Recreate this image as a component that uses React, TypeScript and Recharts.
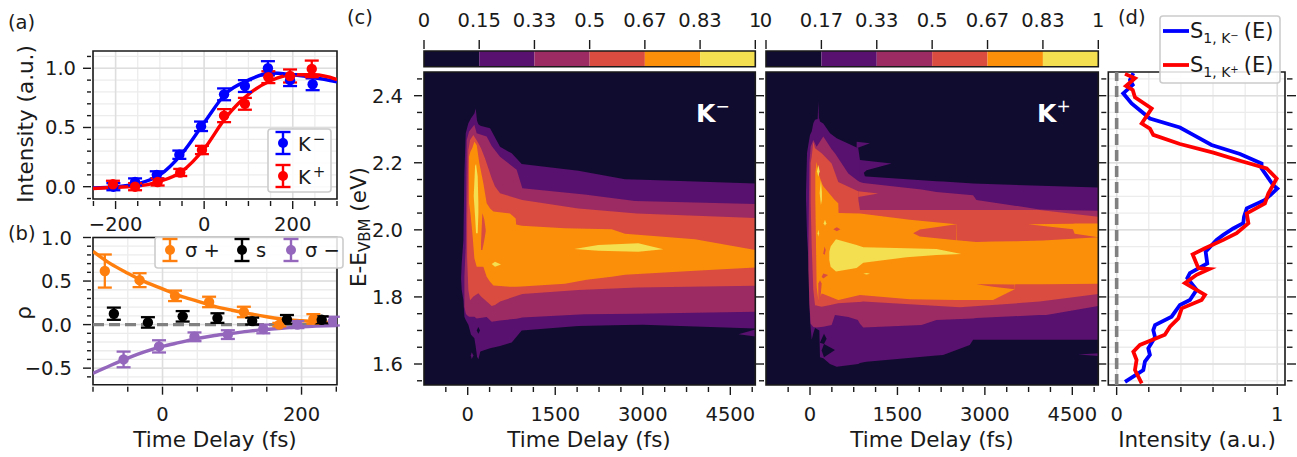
import React from "react";
import {
  Area,
  CartesianGrid,
  ComposedChart,
  ErrorBar,
  Legend,
  Line,
  ReferenceArea,
  ReferenceLine,
  Scatter,
  XAxis,
  YAxis,
} from "recharts";

const W = 1297;
const H = 457;
const FONT = "'DejaVu Sans', sans-serif";
const INK = "#1a1a1a";

const BLUE = "#0000ff";
const RED = "#ff0000";
const ORANGE = "#ff7f0e";
const VIOLET = "#9467bd";
const LEVEL_COLORS = ["#100c2f", "#58116e", "#9c2a63", "#d94c3f", "#fb8f0a", "#f4df50"];

// (a) rise curves
const riseBlue = [[-205, 0.0, 0.03], [-156, 0.04, 0.03], [-107, 0.1, 0.03], [-56, 0.27, 0.035], [-7, 0.51, 0.04], [45, 0.78, 0.05], [92, 0.85, 0.05], [144, 1.0, 0.06], [194, 0.9, 0.05], [245, 0.865, 0.05]];
const riseRed = [[-206, 0.02, 0.03], [-156, 0.0, 0.03], [-105, 0.04, 0.03], [-54, 0.12, 0.03], [-5, 0.31, 0.035], [45, 0.6, 0.055], [92, 0.7, 0.05], [145, 0.925, 0.05], [194, 0.935, 0.055], [243, 0.995, 0.07]];
const fitBlue = [[-251, -0.01], [-200, 0.0], [-150, 0.025], [-100, 0.1], [-50, 0.28], [0, 0.54], [50, 0.79], [100, 0.9], [150, 0.96], [200, 0.945], [250, 0.92], [300, 0.885]];
const fitRed = [[-251, -0.015], [-200, -0.005], [-150, 0.005], [-100, 0.045], [-50, 0.13], [0, 0.32], [50, 0.59], [100, 0.78], [150, 0.895], [200, 0.945], [250, 0.945], [300, 0.905]];

// (b) polarisation
const rhoOrange = [[-83, 0.615, 0.19], [-33, 0.51, 0.08], [18, 0.33, 0.06], [67, 0.26, 0.06], [117, 0.145, 0.06], [168, 0.0, 0.02], [217, 0.065, 0.055]];
const rhoBlack = [[-70, 0.125, 0.07], [-21, 0.025, 0.06], [29, 0.095, 0.06], [79, 0.075, 0.055], [129, 0.04, 0.04], [179, 0.06, 0.05], [229, 0.055, 0.04]];
const rhoViolet = [[-56, -0.4, 0.09], [-5, -0.25, 0.07], [46, -0.14, 0.05], [94, -0.115, 0.05], [145, -0.05, 0.05], [194, 0.0, 0.04], [245, 0.04, 0.05]];
const fitOrange = [[-100, 0.84], [-75, 0.7], [-50, 0.59], [-25, 0.49], [0, 0.41], [25, 0.33], [50, 0.27], [75, 0.21], [100, 0.165], [125, 0.125], [150, 0.09], [175, 0.06], [200, 0.045], [250, 0.02]];
const fitViolet = [[-100, -0.56], [-75, -0.47], [-50, -0.385], [-25, -0.31], [0, -0.25], [25, -0.205], [50, -0.16], [75, -0.125], [100, -0.1], [125, -0.075], [150, -0.055], [175, -0.04], [200, -0.025], [250, -0.01]];

// (c) contour bands, rows are [time, low energy, high energy]
type Band = number[][];
const kmPurple: Band = [[-114, 1.856, 1.856], [-103, 1.821, 1.9], [-74, 1.791, 1.97], [-57, 1.741, 2.169], [-34, 1.731, 2.288], [11, 1.717, 2.318], [57, 1.687, 2.333], [114, 1.677, 2.347], [137, 1.652, 2.362], [160, 1.622, 2.325], [183, 1.614, 2.315], [217, 1.637, 2.31], [383, 1.647, 2.303], [554, 1.654, 2.248], [754, 1.664, 2.228], [925, 1.7, 2.196], [1897, 1.713, 2.176], [2695, 1.716, 2.151], [3000, 1.717, 2.149], [4928, 1.706, 2.138]];
const kmPurpleWedge: Band = [[4640, 1.689, 1.689], [4928, 1.682, 1.703]];
const kmPurpleSpeck: Band = [[52, 1.625, 1.625], [69, 1.615, 1.635], [97, 1.625, 1.625]];
const kmDarkDot: Band = [[154, 1.7, 1.7], [183, 1.69, 1.71], [211, 1.7, 1.7]];
const kmMagenta: Band = [[-57, 1.771, 1.861], [-34, 1.751, 1.95], [-17, 1.746, 2.268], [23, 1.741, 2.293], [114, 1.741, 2.313], [154, 1.736, 2.288], [325, 1.74, 2.278], [411, 1.726, 2.25], [554, 1.73, 2.218], [839, 1.735, 2.179], [936, 1.739, 2.124], [2000, 1.748, 2.105], [2866, 1.75, 2.086], [4928, 1.756, 2.077]];
const kmRed: Band = [[-11, 1.92, 2.02], [11, 1.821, 2.238], [40, 1.79, 2.268], [97, 1.801, 2.283], [183, 1.811, 2.258], [228, 1.801, 2.243], [297, 1.791, 2.213], [411, 1.773, 2.154], [468, 1.776, 2.129], [554, 1.786, 2.109], [936, 1.809, 2.089], [1897, 1.821, 2.064], [2900, 1.828, 2.049], [4928, 1.833, 2.035]];
const kmOrange: Band = [[23, 2.079, 2.218], [46, 2.05, 2.233], [80, 1.99, 2.245], [114, 1.915, 2.263], [154, 1.89, 2.253], [200, 1.89, 2.198], [268, 1.89, 2.139], [325, 1.86, 2.079], [383, 1.845, 2.064], [440, 1.834, 2.055], [725, 1.83, 2.049], [822, 1.83, 2.034], [830, 1.83, 2.016], [925, 1.831, 2.012], [1667, 1.839, 2.005], [2038, 1.851, 2.003], [2467, 1.86, 2.002], [2695, 1.866, 1.988], [3894, 1.878, 1.972], [4928, 1.888, 1.94]];
const kmRedNotch: Band = [[228, 1.94, 1.96], [251, 1.94, 2.05], [285, 1.97, 2.03], [308, 1.995, 2.0]];
const kmYellowStrip: Band = [[103, 2.1, 2.1], [126, 2.04, 2.19], [143, 1.99, 2.196], [171, 1.99, 2.16], [183, 2.05, 2.08]];
const kmYellowSpot: Band = [[411, 1.898, 1.898], [468, 1.89, 1.905], [571, 1.897, 1.897]];
const kmYellowLobe: Band = [[1827, 1.943, 1.943], [2238, 1.938, 1.955], [2923, 1.935, 1.96], [3352, 1.942, 1.942]];

const kpPurple: Band = [[-69, 2.09, 2.115], [-51, 1.98, 2.23], [-23, 1.9, 2.26], [0, 1.73, 2.283], [29, 1.672, 2.293], [57, 1.692, 2.318], [86, 1.707, 2.328], [160, 1.7, 2.332], [171, 1.62, 2.323], [228, 1.617, 2.317], [343, 1.6, 2.288], [457, 1.592, 2.273], [828, 1.6, 2.243], [857, 1.603, 2.208], [942, 1.606, 2.16], [971, 1.607, 2.159], [2170, 1.625, 2.145], [2284, 1.627, 2.144], [2741, 1.657, 2.139], [2798, 1.672, 2.138], [4946, 1.672, 2.126]];
const kpPurpleTip: Band = [[131, 2.33, 2.33], [143, 2.33, 2.382], [154, 2.33, 2.33]];
const kpPurpleSpikeA: Band = [[800, 2.243, 2.263], [1028, 2.258, 2.258]];
const kpPurpleSpikeB: Band = [[857, 2.16, 2.208], [971, 2.178, 2.206], [1399, 2.198, 2.198]];
const kpPurpleWedge: Band = [[4600, 1.628, 1.628], [4946, 1.624, 1.632]];
const kpDarkA: Band = [[170, 1.663, 1.663], [240, 1.66, 1.69], [285, 1.675, 1.675]];
const kpDarkB: Band = [[200, 1.64, 1.64], [240, 1.62, 1.66], [428, 1.642, 1.642]];
const kpMagenta: Band = [[-28, 1.88, 1.95], [-11, 1.78, 2.2], [11, 1.72, 2.248], [57, 1.71, 2.268], [114, 1.709, 2.248], [228, 1.711, 2.278], [371, 1.716, 2.24], [428, 1.746, 2.228], [657, 1.74, 2.168], [820, 1.731, 2.146], [857, 1.72, 2.143], [914, 1.709, 2.14], [1913, 1.716, 2.12], [2170, 1.731, 2.113], [2798, 1.736, 2.103], [2855, 1.737, 2.089], [3940, 1.746, 2.061], [4054, 1.746, 2.06], [4946, 1.773, 2.057]];
const kpRed: Band = [[11, 2.08, 2.2], [29, 1.95, 2.218], [57, 1.82, 2.263], [86, 1.775, 2.243], [200, 1.771, 2.228], [371, 1.777, 2.198], [485, 1.781, 2.143], [826, 1.785, 2.115], [830, 1.785, 2.089], [857, 1.785, 2.059], [914, 1.786, 2.059], [2570, 1.769, 2.059], [3940, 1.786, 2.059], [4946, 1.809, 2.039]];
const kpRedSpur: Band = [[828, 2.098, 2.115], [1170, 2.108, 2.108]];
const kpOrange: Band = [[91, 2.089, 2.17], [114, 1.83, 2.203], [143, 1.79, 2.17], [200, 1.81, 2.14], [228, 1.809, 2.13], [420, 1.795, 2.09], [485, 1.791, 2.079], [490, 1.791, 2.05], [857, 1.806, 2.049], [1713, 1.793, 2.03], [2512, 1.791, 2.017], [2520, 1.791, 1.969], [2855, 1.791, 1.964], [3140, 1.791, 1.965], [3512, 1.823, 1.966], [3520, 1.838, 1.966], [3997, 1.838, 1.968], [4946, 1.839, 1.978]];
const kpOrangeWedge: Band = [[3740, 2.017, 2.017], [4511, 2.002, 2.018], [4540, 1.988, 2.019], [4946, 1.978, 2.019]];
const kpRedIsland: Band = [[1770, 1.99, 1.99], [1884, 1.98, 2.001], [2512, 1.969, 2.017]];
const kpRedSliver: Band = [[2855, 1.838, 1.838], [3140, 1.83, 1.838], [3512, 1.823, 1.837]];
const kpRedSpotA: Band = [[400, 2.002, 2.002], [460, 1.996, 2.008], [520, 2.002, 2.002]];
const kpRedSpotB: Band = [[228, 1.93, 1.93], [250, 1.925, 1.95], [270, 1.94, 1.94]];
const kpRedSpotC: Band = [[200, 1.86, 1.86], [228, 1.855, 1.87], [310, 1.865, 1.865]];
const kpRedSpotD: Band = [[143, 1.78, 1.84], [171, 1.78, 1.85], [200, 1.84, 1.84]];
const kpYellowLobe: Band = [[331, 1.91, 1.935], [354, 1.89, 1.95], [445, 1.876, 1.972], [799, 1.886, 1.955], [914, 1.902, 1.948], [1656, 1.918, 1.945], [2170, 1.925, 1.943], [2598, 1.928, 1.928]];
const kpYellowSpotA: Band = [[914, 1.869, 1.869], [970, 1.867, 1.871], [1028, 1.869, 1.869]];
const kpYellowSpotB: Band = [[120, 2.175, 2.175], [143, 2.158, 2.193], [166, 2.175, 2.175]];
const kpYellowSpotC: Band = [[165, 2.11, 2.11], [188, 2.074, 2.148], [205, 2.09, 2.11]];
const kpYellowSpotD: Band = [[235, 2.02, 2.02], [257, 2.012, 2.03], [280, 2.02, 2.02]];
const kpYellowSpotE: Band = [[130, 1.99, 1.99], [143, 1.98, 2.0], [156, 1.99, 1.99]];

const kMinusLayers: [number, Band][] = [
  [1, kmPurple], [1, kmPurpleWedge], [1, kmPurpleSpeck], [0, kmDarkDot],
  [2, kmMagenta], [3, kmRed], [4, kmOrange], [3, kmRedNotch],
  [5, kmYellowStrip], [5, kmYellowSpot], [5, kmYellowLobe],
];
const kPlusLayers: [number, Band][] = [
  [1, kpPurple], [1, kpPurpleTip], [1, kpPurpleSpikeA], [1, kpPurpleSpikeB], [1, kpPurpleWedge],
  [0, kpDarkA], [0, kpDarkB],
  [2, kpMagenta], [3, kpRed], [3, kpRedSpur], [4, kpOrange], [4, kpOrangeWedge],
  [3, kpRedIsland], [3, kpRedSliver], [3, kpRedSpotA], [3, kpRedSpotB], [3, kpRedSpotC], [3, kpRedSpotD],
  [5, kpYellowLobe], [5, kpYellowSpotA], [5, kpYellowSpotB], [5, kpYellowSpotC], [5, kpYellowSpotD], [5, kpYellowSpotE],
];

const barLabelsLeft = ["0", "0.15", "0.33", "0.5", "0.67", "0.83", "1"];
const barLabelsRight = ["0", "0.17", "0.33", "0.5", "0.67", "0.83", "1"];

// (d) spectra, rows are [intensity, energy]
const specMinus = [[0.104, 2.467], [0.083, 2.447], [0.1, 2.432], [0.041, 2.407], [0.093, 2.377], [0.156, 2.352], [0.207, 2.332], [0.394, 2.305], [0.477, 2.283], [0.591, 2.253], [0.768, 2.226], [0.902, 2.198], [0.902, 2.183], [0.975, 2.133], [1.0, 2.123], [0.923, 2.089], [0.81, 2.064], [0.793, 2.039], [0.788, 2.02], [0.726, 2.004], [0.664, 1.985], [0.622, 1.97], [0.554, 1.935], [0.564, 1.9], [0.456, 1.871], [0.44, 1.856], [0.498, 1.821], [0.456, 1.791], [0.394, 1.776], [0.342, 1.741], [0.239, 1.716], [0.228, 1.701], [0.239, 1.68], [0.197, 1.647], [0.207, 1.627], [0.176, 1.607], [0.166, 1.582], [0.052, 1.547]];
const specPlus = [[0.052, 2.465], [0.114, 2.452], [0.058, 2.429], [0.1, 2.417], [0.114, 2.395], [0.218, 2.362], [0.156, 2.317], [0.207, 2.302], [0.228, 2.283], [0.394, 2.256], [0.602, 2.23], [0.768, 2.206], [0.934, 2.183], [0.996, 2.153], [0.944, 2.108], [0.923, 2.079], [0.81, 2.049], [0.82, 2.02], [0.747, 1.99], [0.664, 1.97], [0.55, 1.945], [0.473, 1.927], [0.508, 1.886], [0.577, 1.883], [0.498, 1.866], [0.425, 1.841], [0.55, 1.806], [0.529, 1.791], [0.405, 1.766], [0.384, 1.736], [0.332, 1.711], [0.3, 1.687], [0.145, 1.657], [0.104, 1.637], [0.124, 1.612], [0.114, 1.582], [0.156, 1.542]];

// tick lists
const delayTicksA = [-250, -200, -150, -100, -50, 0, 50, 100, 150, 200, 250, 300];
const delayTicksB = [-100, -50, 0, 50, 100, 150, 200, 250];
const delayMajor = [-200, 0, 200];
const intensityTicks = [-0.1, 0, 0.1, 0.2, 0.3, 0.4, 0.5, 0.6, 0.7, 0.8, 0.9, 1.0, 1.1];
const intensityMajor = [0, 0.5, 1.0];
const rhoTicks = [-0.6, -0.5, -0.4, -0.3, -0.2, -0.1, 0, 0.1, 0.2, 0.3, 0.4, 0.5, 0.6, 0.7, 0.8, 0.9, 1.0];
const rhoMajor = [-0.5, 0, 0.5, 1.0];
const longDelayTicks = [-375, 0, 375, 750, 1125, 1500, 1875, 2250, 2625, 3000, 3375, 3750, 4125, 4500, 4875];
const longDelayMajor = [0, 1500, 3000, 4500];
const energyTicks = [1.55, 1.6, 1.65, 1.7, 1.75, 1.8, 1.85, 1.9, 1.95, 2.0, 2.05, 2.1, 2.15, 2.2, 2.25, 2.3, 2.35, 2.4, 2.45];
const energyMajor = [1.6, 1.8, 2.0, 2.2, 2.4];
const specTicks = [0, 0.2, 0.4, 0.6, 0.8, 1];
const specMajor = [0, 1];

type Rect = { left: number; right: number; top: number; bottom: number };
const panelA: Rect = { left: 93, right: 337, top: 51, bottom: 199 };
const panelB: Rect = { left: 93, right: 337, top: 237.5, bottom: 384.7 };
const panelL: Rect = { left: 424, right: 755.3, top: 72, bottom: 385 };
const panelR: Rect = { left: 766, right: 1098.3, top: 72, bottom: 385 };
const panelD: Rect = { left: 1108.3, right: 1285, top: 72, bottom: 385 };
const barL: Rect = { left: 424, right: 755.3, top: 51, bottom: 66.7 };
const barR: Rect = { left: 766, right: 1098.3, top: 51, bottom: 66.7 };

const ENERGY_DOMAIN = [1.5374, 2.4706];

// axes are 1px thick in the layout, the margins give that pixel back
const margins = (r: Rect, sides = "lb") => ({
  left: r.left - (sides.includes("l") ? 1 : 0),
  right: W - r.right - (sides.includes("r") ? 1 : 0),
  top: r.top - (sides.includes("t") ? 1 : 0),
  bottom: H - r.bottom - (sides.includes("b") ? 1 : 0),
});
const xyRows = (rows: number[][]) => rows.map(([x, y, err]) => ({ x, y, err }));
const bandRows = (rows: Band) => rows.map(([t, lo, hi]) => ({ t, band: [lo, hi] }));
const specRows = (rows: number[][]) => rows.map(([x, e]) => ({ x, e }));

const sheet: React.CSSProperties = { position: "absolute", left: 0, top: 0 };
const TICK_FONT = 19.5;
const LABEL_FONT = 21.5;

// one tick drawn by hand so that minor and major ticks can differ
function makeTick(side: string, major: number[], format: (v: number) => string, gap: number, long = 8, short = 5) {
  return (props: any) => {
    const { x, y, payload } = props;
    const v = payload.value;
    const isMajor = major.includes(v);
    const len = isMajor ? long : short;
    const text = isMajor ? format(v) : "";
    if (side === "bottom") {
      return (
        <g>
          <line x1={x} x2={x} y1={y} y2={y + len} stroke={INK} strokeWidth={1.4} />
          {text && <text x={x} y={y + gap} textAnchor="middle" fontSize={TICK_FONT} fontFamily={FONT} fill={INK}>{text}</text>}
        </g>
      );
    }
    if (side === "top") {
      return (
        <g>
          <line x1={x} x2={x} y1={y} y2={y - len} stroke={INK} strokeWidth={1.4} />
          {text && <text x={x} y={y - gap} textAnchor="middle" fontSize={TICK_FONT} fontFamily={FONT} fill={INK}>{text}</text>}
        </g>
      );
    }
    if (side === "right") {
      return <line x1={x} x2={x + len} y1={y} y2={y} stroke={INK} strokeWidth={1.4} />;
    }
    return (
      <g>
        <line x1={x} x2={x - len} y1={y} y2={y} stroke={INK} strokeWidth={1.4} />
        {text && <text x={x - gap} y={y + 7} textAnchor="end" fontSize={TICK_FONT} fontFamily={FONT} fill={INK}>{text}</text>}
      </g>
    );
  };
}

const minus = (s: string) => s.replace("-", "\u2212");
const fmtInt = (v: number) => minus(String(v));
const fmtOne = (v: number) => minus(v.toFixed(1));
const noLabel = () => "";

function Grid({ xs, ys, xMajor = [], yMajor = [] }: { xs: number[]; ys: number[]; xMajor?: number[]; yMajor?: number[] }) {
  return (
    <>
      <CartesianGrid stroke="#ececec" strokeWidth={1.3} verticalValues={xs} horizontalValues={ys} />
      <CartesianGrid stroke="#dedede" strokeWidth={1.5} verticalValues={xMajor} horizontalValues={yMajor} />
    </>
  );
}

const frame = (x: number[], y: number[]) => (
  <ReferenceArea x1={x[0]} x2={x[1]} y1={y[0]} y2={y[1]} fill="none" stroke={INK} strokeWidth={1.6} ifOverflow="visible" />
);

function LegendBox({ w, h, children }: { w: number; h: number; children: React.ReactNode }) {
  return (
    <svg width={w} height={h} style={{ display: "block" }}>
      <rect x={1} y={1} width={w - 2} height={h - 2} rx={3} fill="#ffffff" fillOpacity={0.85} stroke="#cccccc" strokeWidth={1.6} />
      {children}
    </svg>
  );
}

function ErrGlyph({ x, y, color }: { x: number; y: number; color: string }) {
  return (
    <g stroke={color} strokeWidth={2.4}>
      <line x1={x} x2={x} y1={y - 11} y2={y + 11} />
      <line x1={x - 7.5} x2={x + 7.5} y1={y - 11} y2={y - 11} />
      <line x1={x - 7.5} x2={x + 7.5} y1={y + 11} y2={y + 11} />
      <circle cx={x} cy={y} r={5} fill={color} stroke="none" />
    </g>
  );
}

const dot = (color: string) => (props: any) => <circle cx={props.cx} cy={props.cy} r={5.2} fill={color} />;

function PointSeries({ name, rows, color }: { name: string; rows: number[][]; color: string }) {
  return (
    <Scatter name={name} data={xyRows(rows)} fill={color} shape={dot(color)} isAnimationActive={false}>
      <ErrorBar dataKey="err" direction="y" width={7} stroke={color} strokeWidth={2.3} />
    </Scatter>
  );
}

function RiseChart() {
  return (
    <div style={sheet}>
      <ComposedChart width={W} height={H} margin={margins(panelA)} data={xyRows(fitBlue)}>
        {Grid({ xs: delayTicksA, ys: intensityTicks, xMajor: delayMajor, yMajor: intensityMajor })}
        <XAxis dataKey="x" type="number" domain={[-251, 300]} allowDataOverflow ticks={delayTicksA} interval={0} height={1} tickSize={0} tickLine={false} axisLine={false} tick={makeTick("bottom", delayMajor, fmtInt, 30)} />
        <YAxis dataKey="y" type="number" domain={[-0.104, 1.146]} allowDataOverflow ticks={intensityTicks} interval={0} width={1} tickSize={0} tickLine={false} axisLine={false} tick={makeTick("left", intensityMajor, fmtOne, 15, 8, 4)} />
        <Line data={xyRows(fitBlue)} dataKey="y" type="monotone" stroke={BLUE} strokeWidth={3.4} dot={false} activeDot={false} isAnimationActive={false} />
        <Line data={xyRows(fitRed)} dataKey="y" type="monotone" stroke={RED} strokeWidth={3.4} dot={false} activeDot={false} isAnimationActive={false} />
        {PointSeries({ name: "K-", rows: riseBlue, color: BLUE })}
        {PointSeries({ name: "K+", rows: riseRed, color: RED })}
        {frame([-251, 300], [-0.104, 1.146])}
        <Legend
          layout="vertical"
          align="center"
          verticalAlign="middle"
          wrapperStyle={{ position: "absolute", left: 267, top: 128, width: 65, height: 65 }}
          content={() => (
            <LegendBox w={65} h={65}>
              <ErrGlyph x={16} y={15} color={BLUE} />
              <ErrGlyph x={16} y={48} color={RED} />
              <text x={31} y={23} fontSize={TICK_FONT} fontFamily={FONT} fill={INK}>K<tspan fontSize={15} dy={-7} dx={2}>{"\u2212"}</tspan></text>
              <text x={31} y={56} fontSize={TICK_FONT} fontFamily={FONT} fill={INK}>K<tspan fontSize={15} dy={-7} dx={2}>+</tspan></text>
            </LegendBox>
          )}
        />
      </ComposedChart>
    </div>
  );
}

function RhoChart() {
  return (
    <div style={sheet}>
      <ComposedChart width={W} height={H} margin={margins(panelB)} data={xyRows(fitOrange)}>
        {Grid({ xs: delayTicksB, ys: rhoTicks, xMajor: [0, 200], yMajor: rhoMajor })}
        <XAxis dataKey="x" type="number" domain={[-100, 251]} allowDataOverflow ticks={delayTicksB} interval={0} height={1} tickSize={0} tickLine={false} axisLine={false} tick={makeTick("bottom", [0, 200], fmtInt, 34.5)} />
        <YAxis dataKey="y" type="number" domain={[-0.69, 1.0]} allowDataOverflow ticks={rhoTicks} interval={0} width={1} tickSize={0} tickLine={false} axisLine={false} tick={makeTick("left", rhoMajor, fmtOne, 19, 8, 4)} />
        <ReferenceLine y={0} stroke="#808080" strokeWidth={3.4} strokeDasharray="11 5" />
        <Line data={xyRows(fitOrange)} dataKey="y" type="monotone" stroke={ORANGE} strokeWidth={3.4} dot={false} activeDot={false} isAnimationActive={false} />
        <Line data={xyRows(fitViolet)} dataKey="y" type="monotone" stroke={VIOLET} strokeWidth={3.4} dot={false} activeDot={false} isAnimationActive={false} />
        {PointSeries({ name: "sigma+", rows: rhoOrange, color: ORANGE })}
        {PointSeries({ name: "sigma-", rows: rhoViolet, color: VIOLET })}
        {PointSeries({ name: "s", rows: rhoBlack, color: "#000000" })}
        {frame([-100, 251], [-0.69, 1.0])}
        <Legend
          layout="vertical"
          align="center"
          verticalAlign="middle"
          wrapperStyle={{ position: "absolute", left: 154, top: 236, width: 190, height: 33 }}
          content={() => (
            <LegendBox w={190} h={33}>
              <ErrGlyph x={16} y={14} color={ORANGE} />
              <text x={31} y={21} fontSize={TICK_FONT} fontFamily={FONT} fill={INK}>{"\u03c3 +"}</text>
              <ErrGlyph x={88} y={14} color="#000000" />
              <text x={102} y={21} fontSize={TICK_FONT} fontFamily={FONT} fill={INK}>s</text>
              <ErrGlyph x={137} y={14} color={VIOLET} />
              <text x={151} y={21} fontSize={TICK_FONT} fontFamily={FONT} fill={INK}>{"\u03c3 \u2212"}</text>
            </LegendBox>
          )}
        />
      </ComposedChart>
    </div>
  );
}

function ContourChart({ rect, layers, domain }: { rect: Rect; layers: [number, Band][]; domain: number[] }) {
  const backdrop: Band = [[domain[0], ENERGY_DOMAIN[0], ENERGY_DOMAIN[1]], [domain[1], ENERGY_DOMAIN[0], ENERGY_DOMAIN[1]]];
  const all: [number, Band][] = [[0, backdrop], ...layers];
  return (
    <div style={sheet}>
      <ComposedChart width={W} height={H} margin={margins(rect)} data={bandRows(backdrop)}>
        <XAxis dataKey="t" type="number" domain={domain} allowDataOverflow ticks={longDelayTicks} interval={0} height={1} tickSize={0} tickLine={false} axisLine={false} tick={makeTick("bottom", longDelayMajor, fmtInt, 34)} />
        <YAxis type="number" domain={ENERGY_DOMAIN} allowDataOverflow ticks={energyTicks} interval={0} width={1} tickSize={0} tickLine={false} axisLine={false} tick={makeTick("left", energyMajor, rect === panelL ? fmtOne : noLabel, 19)} />
        {all.map(([level, rows], i) => (
          <Area key={i} data={bandRows(rows)} dataKey="band" type="linear" stroke="none" fill={LEVEL_COLORS[level]} fillOpacity={1} dot={false} activeDot={false} isAnimationActive={false} />
        ))}
        {frame(domain, ENERGY_DOMAIN)}
      </ComposedChart>
    </div>
  );
}

function ColorBar({ rect, labels }: { rect: Rect; labels: string[] }) {
  const steps = [0, 1, 2, 3, 4, 5, 6];
  return (
    <div style={sheet}>
      <ComposedChart width={W} height={H} margin={margins(rect, "t")} data={[{ t: 0, band: [0, 1] }, { t: 6, band: [0, 1] }]}>
        <XAxis dataKey="t" type="number" orientation="top" domain={[0, 6]} ticks={steps} interval={0} height={1} tickSize={0} tickLine={false} axisLine={false} tick={makeTick("top", steps, (v) => labels[v], 22, 9)} />
        <YAxis type="number" domain={[0, 1]} hide />
        {LEVEL_COLORS.map((c, i) => (
          <Area key={c} data={[{ t: i, band: [0, 1] }, { t: i + 1, band: [0, 1] }]} dataKey="band" type="linear" stroke="none" fill={c} fillOpacity={1} dot={false} activeDot={false} isAnimationActive={false} />
        ))}
        {frame([0, 6], [0, 1])}
      </ComposedChart>
    </div>
  );
}

function SpectrumChart() {
  return (
    <div style={sheet}>
      <ComposedChart layout="vertical" width={W} height={H} margin={margins(panelD, "lbr")} data={specRows(specMinus)}>
        {Grid({ xs: specTicks, ys: energyTicks, xMajor: [0, 1], yMajor: energyMajor })}
        <XAxis type="number" domain={[-0.052, 1.048]} allowDataOverflow ticks={specTicks} interval={0} height={1} tickSize={0} tickLine={false} axisLine={false} tick={makeTick("bottom", specMajor, (v) => String(v), 34)} />
        <YAxis dataKey="e" type="number" reversed domain={ENERGY_DOMAIN} allowDataOverflow ticks={energyTicks} interval={0} width={1} tickSize={0} tickLine={false} axisLine={false} tick={makeTick("left", energyMajor, noLabel, 19)} />
        <YAxis yAxisId="r" dataKey="e" orientation="right" type="number" reversed domain={ENERGY_DOMAIN} allowDataOverflow ticks={energyTicks} interval={0} width={1} tickSize={0} tickLine={false} axisLine={false} tick={makeTick("right", energyMajor, noLabel, 0, 9, 5.5)} />
        <ReferenceLine x={0} stroke="#808080" strokeWidth={3.6} strokeDasharray="11 5" />
        <Line data={specRows(specMinus)} dataKey="x" type="linear" stroke={BLUE} strokeWidth={3.8} dot={false} activeDot={false} isAnimationActive={false} />
        <Line yAxisId="r" data={specRows(specPlus)} dataKey="x" type="linear" stroke={RED} strokeWidth={3.8} dot={false} activeDot={false} isAnimationActive={false} />
        <ReferenceArea x1={-0.052} x2={1.048} y1={ENERGY_DOMAIN[0]} y2={ENERGY_DOMAIN[1]} fill="none" stroke={INK} strokeWidth={1.6} ifOverflow="visible" />
        <Legend
          layout="vertical"
          align="center"
          verticalAlign="middle"
          wrapperStyle={{ position: "absolute", left: 1159, top: 15, width: 122, height: 69 }}
          content={() => (
            <LegendBox w={122} h={69}>
              <line x1={4} x2={30} y1={16} y2={16} stroke={BLUE} strokeWidth={3.8} />
              <line x1={4} x2={30} y1={50} y2={50} stroke={RED} strokeWidth={3.8} />
              <text x={31} y={23} fontSize={21} fontFamily={FONT} fill={INK}>S<tspan fontSize={14} dy={5}>1, K</tspan><tspan fontSize={10} dy={-4}>{"\u2212"}</tspan><tspan fontSize={21} dy={-1} dx={5}>(E)</tspan></text>
              <text x={31} y={57} fontSize={21} fontFamily={FONT} fill={INK}>S<tspan fontSize={14} dy={5}>1, K</tspan><tspan fontSize={10} dy={-4}>+</tspan><tspan fontSize={21} dy={-1} dx={5}>(E)</tspan></text>
            </LegendBox>
          )}
        />
      </ComposedChart>
    </div>
  );
}

function PageText() {
  const t = { fontSize: LABEL_FONT, fontFamily: FONT, fill: INK };
  const letter = { ...t, fontSize: 19.5 };
  return (
    <svg width={W} height={H} style={{ ...sheet, pointerEvents: "none" }}>
      <text x={8} y={29} {...letter}>(a)</text>
      <text x={8} y={240} {...letter}>(b)</text>
      <text x={347} y={24} {...letter}>(c)</text>
      <text x={1118} y={24} {...letter}>(d)</text>
      <text transform="translate(33,124) rotate(-90)" textAnchor="middle" {...t}>Intensity (a.u.)</text>
      <text transform="translate(31,313) rotate(-90)" textAnchor="middle" {...t}>{"\u03c1"}</text>
      <text transform="translate(366,227) rotate(-90)" textAnchor="middle" {...t}>E-E<tspan fontSize={15} dy={4}>VBM</tspan><tspan dy={-4}> (eV)</tspan></text>
      <text x={215} y={447} textAnchor="middle" {...t}>Time Delay (fs)</text>
      <text x={589} y={447} textAnchor="middle" {...t}>Time Delay (fs)</text>
      <text x={932} y={447} textAnchor="middle" {...t}>Time Delay (fs)</text>
      <text x={1197} y={447} textAnchor="middle" {...t}>Intensity (a.u.)</text>
      <text x={696} y={122} fontSize={25} fontWeight="bold" fontFamily={FONT} fill="#ffffff">K<tspan fontSize={17} fontWeight="normal" dy={-10}>{"\u2212"}</tspan></text>
      <text x={1037} y={122} fontSize={25} fontWeight="bold" fontFamily={FONT} fill="#ffffff">K<tspan fontSize={17} fontWeight="normal" dy={-10}>+</tspan></text>
    </svg>
  );
}

export default function App() {
  return (
    <div style={{ position: "absolute", left: 0, top: 0, width: W, height: H, background: "#ffffff", overflow: "hidden" }}>
      <RiseChart />
      <RhoChart />
      <ColorBar rect={barL} labels={barLabelsLeft} />
      <ColorBar rect={barR} labels={barLabelsRight} />
      <ContourChart rect={panelL} layers={kMinusLayers} domain={[-749, 4928]} />
      <ContourChart rect={panelR} layers={kPlusLayers} domain={[-755, 4946]} />
      <SpectrumChart />
      <PageText />
    </div>
  );
}
